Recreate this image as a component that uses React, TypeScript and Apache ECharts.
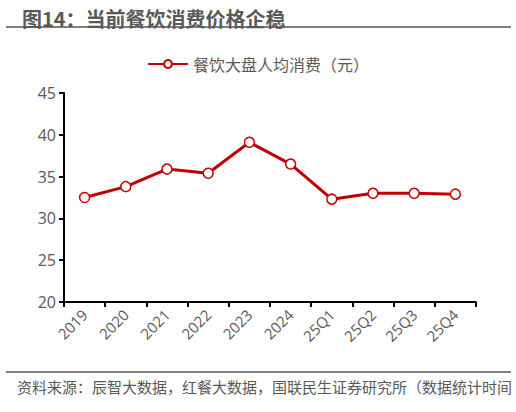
import React, { useEffect, useRef } from 'react';
import * as echarts from 'echarts';

const categories = ['2019', '2020', '2021', '2022', '2023', '2024', '25Q1', '25Q2', '25Q3', '25Q4'];
const avgSpend = [32.5, 33.8, 35.9, 35.4, 39.1, 36.5, 32.3, 33.0, 33.0, 32.9];
const seriesName = '餐饮大盘人均消费（元）';
const titleText = '图14：当前餐饮消费价格企稳';
const sourceText = '资料来源：辰智大数据，红餐大数据，国联民生证券研究所（数据统计时间';

const FONT = '"Open Sans", "Noto Sans CJK SC", sans-serif';
const CJK = '"Noto Sans CJK SC", sans-serif';

const App: React.FC = () => {
  const chartRef = useRef<HTMLDivElement | null>(null);

  useEffect(() => {
    if (!chartRef.current) return;
    const chart = echarts.init(chartRef.current, undefined, { renderer: 'svg' });

    chart.setOption({
      animation: false,
      backgroundColor: '#ffffff',
      textStyle: { fontFamily: FONT },
      title: {
        text: titleText,
        left: 17,
        top: 3,
        textStyle: { fontSize: 20, fontWeight: 'bold', color: '#595959', fontFamily: CJK },
      },
      legend: {
        top: 51,
        left: 'center',
        itemWidth: 40,
        itemHeight: 10,
        itemGap: 6,
        textStyle: { fontSize: 16, color: '#595959', fontFamily: CJK },
        data: [seriesName],
      },
      grid: { left: 64, right: 40, top: 93, bottom: 110 },
      xAxis: {
        type: 'category',
        data: categories,
        axisLine: { lineStyle: { color: '#000000', width: 2 } },
        axisTick: { show: true, length: 5, lineStyle: { color: '#000000', width: 2 } },
        axisLabel: { rotate: 45, fontSize: 15, color: '#595959', margin: 10 },
      },
      yAxis: {
        type: 'value',
        min: 20,
        max: 45,
        interval: 5,
        splitLine: { show: false },
        axisLine: { show: true, lineStyle: { color: '#000000', width: 2 } },
        axisTick: { show: true, length: 5, lineStyle: { color: '#000000', width: 2 } },
        axisLabel: { fontSize: 16, color: '#595959', margin: 8 },
      },
      series: [
        {
          name: seriesName,
          type: 'line',
          data: avgSpend,
          symbol: 'circle',
          symbolSize: 10,
          lineStyle: { color: '#C00000', width: 3 },
          itemStyle: { color: '#ffffff', borderColor: '#C00000', borderWidth: 1.5 },
        },
      ],
      color: ['#C00000'],
      graphic: [
        {
          type: 'line',
          shape: { x1: 6, y1: 27, x2: 511, y2: 27 },
          style: { stroke: '#7f7f7f', lineWidth: 2 },
        },
        {
          type: 'line',
          shape: { x1: 6, y1: 372, x2: 511, y2: 372 },
          style: { stroke: '#595959', lineWidth: 1.5 },
        },
        {
          type: 'text',
          left: 17,
          top: 379,
          style: { text: sourceText, fontSize: 15, fill: '#595959', fontFamily: CJK },
        },
      ],
    });

    return () => {
      chart.dispose();
    };
  }, []);

  return (
    <div
      ref={chartRef}
      style={{ position: 'absolute', left: 0, top: 0, width: '516px', height: '412px' }}
    />
  );
};

export default App;
